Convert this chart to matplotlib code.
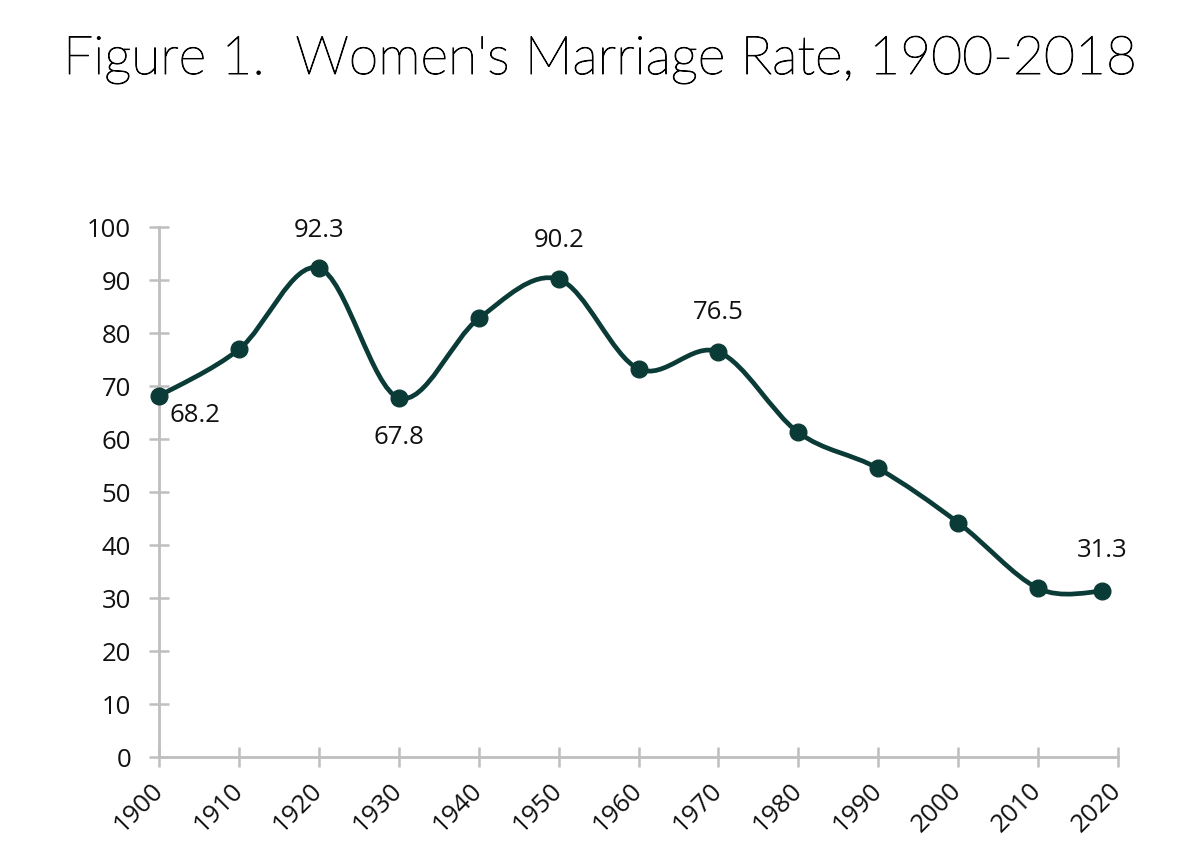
import numpy as np
import matplotlib
matplotlib.use("Agg")
import matplotlib.pyplot as plt
from matplotlib.path import Path
from matplotlib.patches import PathPatch
import matplotlib.patheffects as pe

# ---- data ----
years = [1900, 1910, 1920, 1930, 1940, 1950, 1960, 1970, 1980, 1990, 2000, 2010, 2018]
rates = [68.2, 77.0, 92.3, 67.8, 82.8, 90.2, 73.3, 76.5, 61.3, 54.5, 44.3, 31.9, 31.3]
labelled = {1900: "68.2", 1920: "92.3", 1930: "67.8", 1950: "90.2", 1970: "76.5", 2018: "31.3"}
x_ticks = list(range(1900, 2021, 10))
y_ticks = list(range(0, 101, 10))
title = "Figure 1.  Women's Marriage Rate, 1900-2018"

LINE = "#0b3b37"
AXC = "#bfbfbf"
W, H = 1200, 868

fig = plt.figure(figsize=(W / 100, H / 100), dpi=100)
ax = fig.add_axes([159.3 / W, (H - 757.3) / H, (1117.7 - 159.3) / W, 530 / H])
ax.set_xlim(1900, 2020)
ax.set_ylim(0, 100)

# smoothed line (Catmull-Rom style cubic Bezier, like spreadsheet "smoothed line")
P = np.column_stack([years, rates]).astype(float)
ext = np.vstack([P[0], P, P[-1]])
verts = [tuple(P[0])]
codes = [Path.MOVETO]
for i in range(len(P) - 1):
    p0, p1, p2, p3 = ext[i], ext[i + 1], ext[i + 2], ext[i + 3]
    c1 = p1 + (p2 - p0) / 6.0
    c2 = p2 - (p3 - p1) / 6.0
    verts += [tuple(c1), tuple(c2), tuple(p2)]
    codes += [Path.CURVE4] * 3
ax.add_patch(PathPatch(Path(verts, codes), facecolor="none", edgecolor=LINE,
                       lw=3.4, clip_on=False, zorder=3, capstyle="round"))
ax.plot(years, rates, linestyle="none", marker="o", markersize=12,
        color=LINE, clip_on=False, zorder=4)

# data labels
offsets = {1900: (36, -20), 1920: (0, 38), 1930: (0, -40), 1950: (0, 39),
           1970: (0, 39), 2018: (0, 41)}
for yr, val in zip(years, rates):
    if yr in labelled:
        dx, dy = offsets[yr]
        ax.annotate(labelled[yr], (yr, val), xytext=(dx, dy), textcoords="offset pixels",
                    ha="center", va="center", fontsize=18.5, family="Open Sans",
                    color="#111111")

# axes styling
for s in ["top", "right"]:
    ax.spines[s].set_visible(False)
for s in ["left", "bottom"]:
    ax.spines[s].set_color(AXC)
    ax.spines[s].set_linewidth(2)
ax.set_xticks(x_ticks)
ax.set_yticks(y_ticks)
ax.set_xticklabels([str(t) for t in x_ticks], rotation=45, ha="right",
                   rotation_mode="anchor", va="center")
ax.tick_params(axis="both", direction="inout", length=14.4, width=1.8, color=AXC,
               labelsize=18.5, labelcolor="#111111")
ax.tick_params(axis="y", pad=13)
ax.tick_params(axis="x", pad=14)
for lab in ax.get_xticklabels() + ax.get_yticklabels():
    lab.set_family("Open Sans")

fig.text(0.5, (H - 74) / H, title, ha="center", va="baseline", fontsize=38.5,
         family="Lato", fontweight="light", color="#000000",
         path_effects=[pe.withStroke(linewidth=0.7, foreground="#000000")])

fig.savefig("out.png", dpi=100, facecolor="white")
